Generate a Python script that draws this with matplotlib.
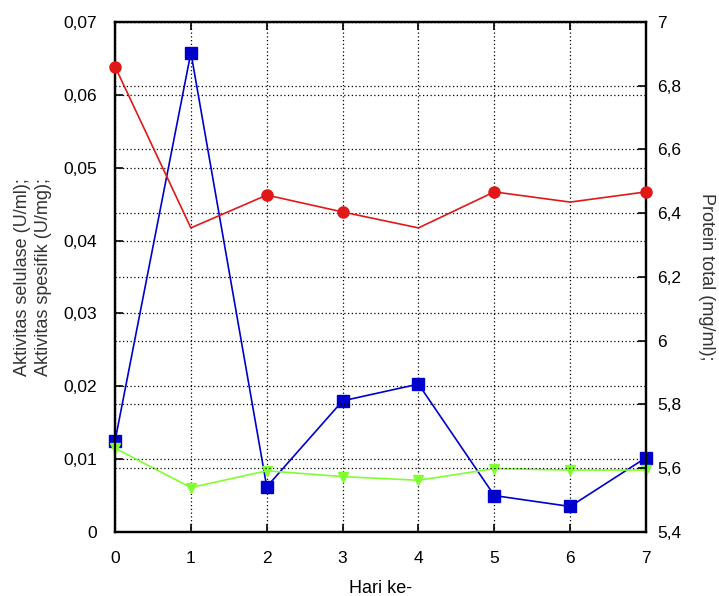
import numpy as np
import matplotlib
matplotlib.use('Agg')
import matplotlib.pyplot as plt
from matplotlib.ticker import FuncFormatter

plt.rcParams['font.family'] = ['Liberation Sans', 'DejaVu Sans']

hari = [0, 1, 2, 3, 4, 5, 6, 7]
# left axis
aktivitas_selulase = [0.0125, 0.0658, 0.0062, 0.0180, 0.0203, 0.0050, 0.0035, 0.0102]
aktivitas_spesifik = [0.0115, 0.0061, 0.0084, 0.0076, 0.0071, 0.0087, 0.0085, 0.0085]
# right axis
protein_total = [6.86, 6.354, 6.457, 6.404, 6.354, 6.467, 6.435, 6.467]

def koma(v, pos):
    s = ('%.2f' % v).rstrip('0').rstrip('.') if v != 0 else '0'
    return s.replace('.', ',')

def koma1(v, pos):
    s = ('%.1f' % v).rstrip('0').rstrip('.')
    return s.replace('.', ',')

fig = plt.figure(figsize=(7.19, 5.96), dpi=100)
ax = fig.add_axes([0.160, 0.1074, 0.7385, 0.8557])
ax2 = ax.twinx()

grid_kw = dict(color='black', linestyle=(0, (1, 2)), linewidth=0.9)

ax.plot(hari, aktivitas_selulase, color='#0000CC', marker='s', markersize=9, linewidth=1.2,
        zorder=3, clip_on=False)
ax.plot(hari, aktivitas_spesifik, color='#80FF30', marker='v', markersize=7, linewidth=1.2,
        zorder=3, clip_on=False)
ax2.plot(hari, protein_total, color='#E01818', marker='o', markersize=8, linewidth=1.2,
         markevery=[0, 2, 3, 5, 7], zorder=3, clip_on=False)

ax.set_xlim(0, 7)
ax.set_ylim(0, 0.07)
ax2.set_ylim(5.4, 7.0)
ax.set_xticks(hari)
ax.set_yticks(np.arange(0, 0.071, 0.01))
ax2.set_yticks(np.arange(5.4, 7.01, 0.2))
ax.yaxis.set_major_formatter(FuncFormatter(koma))
ax2.yaxis.set_major_formatter(FuncFormatter(koma1))

ax.grid(True, axis='both', **grid_kw)
ax2.grid(True, axis='y', **grid_kw)
ax.set_axisbelow(True)

for a in (ax, ax2):
    a.tick_params(direction='in', length=6, width=1.2, labelsize=12.5, colors='black')
    for sp in a.spines.values():
        sp.set_linewidth(1.6)
ax.tick_params(axis='y', pad=13)
ax.tick_params(axis='x', pad=14)
ax2.tick_params(axis='y', pad=8)
ax.tick_params(top=True, right=False)
ax2.tick_params(right=True, left=False)

ax.set_xlabel('Hari ke-', fontsize=13, labelpad=10)
ax.set_ylabel('Aktivitas selulase (U/ml);\nAktivitas spesifik (U/mg);', fontsize=13,
              color='#333333', labelpad=8, linespacing=1.3)
ax2.set_ylabel('Protein total (mg/ml);', fontsize=13, color='#333333', rotation=-90, labelpad=24)

fig.savefig('out.png', dpi=100)
